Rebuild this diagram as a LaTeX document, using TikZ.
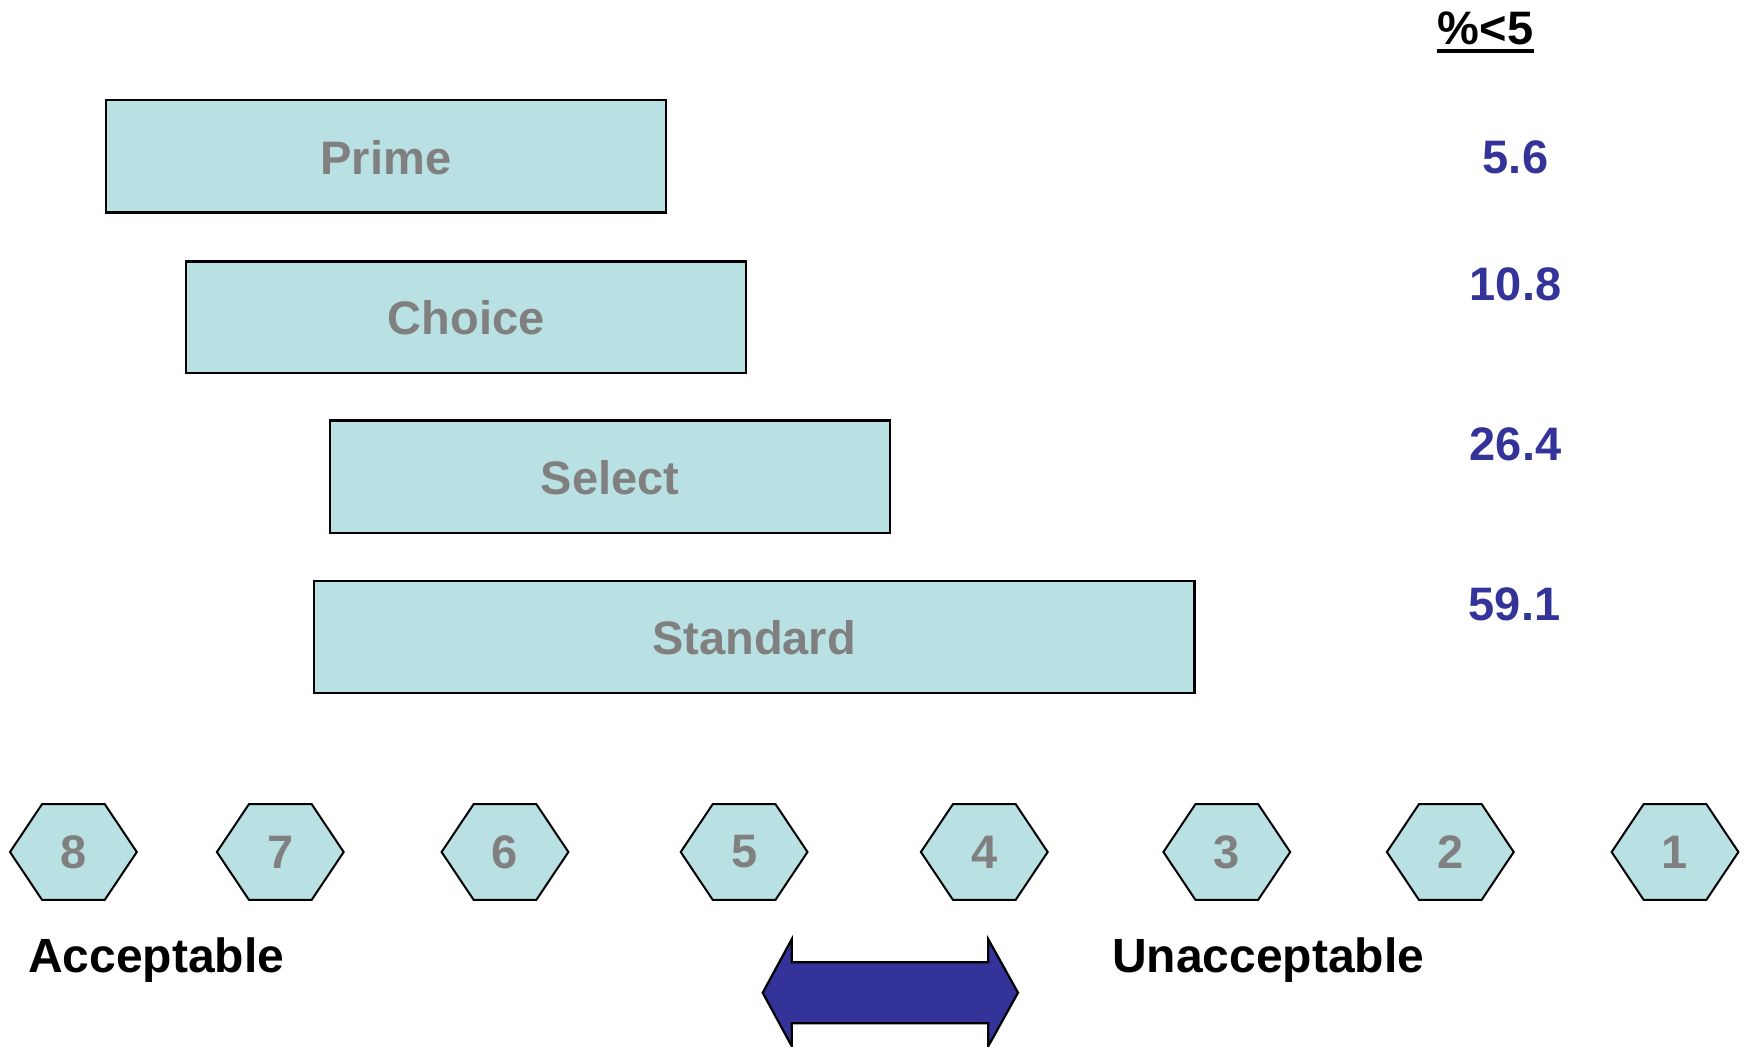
\documentclass[tikz,border=0pt]{standalone}
\usepackage{fontspec}
\setmainfont{Liberation Sans}
\definecolor{boxfill}{HTML}{B9E0E3}
\definecolor{boxtext}{HTML}{808080}
\definecolor{numblue}{HTML}{333399}
\begin{document}
\begin{tikzpicture}[x=1pt,y=-1pt,
  bar/.style={draw=black,line width=2.2pt,fill=boxfill},
  bartext/.style={font=\fontsize{47}{50}\selectfont\bfseries,text=boxtext,inner sep=0pt},
  numtext/.style={font=\fontsize{47}{50}\selectfont\bfseries,text=numblue,inner sep=0pt},
  labtext/.style={font=\fontsize{48}{50}\selectfont\bfseries,text=black,inner sep=0pt,anchor=west},
  hexshape/.style={draw=black,line width=2pt,fill=boxfill,line join=miter}]
\useasboundingbox[fill=white] (0,0) rectangle (1744,1046);
\clip (0,0) rectangle (1744,1046);
% bars
\draw[bar] (105.7,100.1) rectangle (666.2,212.4);
\node[bartext] (prime) at (385.9,157.5) {Prime};
\draw[bar] (185.7,261.4) rectangle (746.3,372.6);
\node[bartext] (choice) at (466,318) {Choice};
\draw[bar] (330.3,420.4) rectangle (889.8,532.7);
\node[bartext] (select) at (610,477.5) {Select};
\draw[bar] (313.6,580.6) rectangle (1194.5,692.9);
\node[bartext] (standard) at (754,637.5) {Standard};
% header and numbers
\node[font=\fontsize{47}{50}\selectfont\bfseries,inner sep=0pt] (hdr) at (1485.5,28) {\%<5};
\draw[line width=4pt] (1437,51) -- (1534,51);
\node[numtext] (n1) at (1515.5,157) {5.6};
\node[numtext] (n2) at (1515.5,284.5) {10.8};
\node[numtext] (n3) at (1515.5,444) {26.4};
\node[numtext] (n4) at (1514.5,604) {59.1};
% hexagons
\foreach \cx/\lab in {73.4/8,280.3/7,505.0/6,744.1/5,984.3/4,1226.8/3,1450.3/2,1675.0/1}{
  \draw[hexshape] (\cx-63.4,852) -- (\cx-31.4,804.2) -- (\cx+31.4,804.2) -- (\cx+63.4,852)
     -- (\cx+31.4,899.8) -- (\cx-31.4,899.8) -- cycle;
  \node[bartext] (h\lab) at (\cx,852) {\lab};
}
% labels
\node[labtext] (acc) at (28,960) {Acceptable};
\node[labtext] (unacc) at (1112,960) {Unacceptable};
% double arrow
\draw[line width=2.2pt,fill=numblue,line join=miter]
  (762.7,992.7) -- (791.7,939.3) -- (791.7,962.2) -- (988.3,962.2) -- (988.3,939.3)
  -- (1018,992.7) -- (988.3,1046.1) -- (988.3,1023.2) -- (791.7,1023.2) -- (791.7,1046.1) -- cycle;
\end{tikzpicture}
\end{document}
